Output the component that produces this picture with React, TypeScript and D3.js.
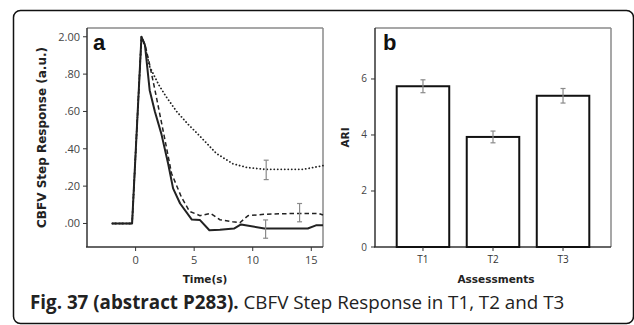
import React from "react";
import * as d3 from "d3";

// ---- Panel a data (CBFV step response) ----
const solidT = [-2, -0.3, 0.5, 0.8, 1.2, 1.65, 2.2, 2.78, 3.2, 3.8, 4.8, 5.5, 6.3, 7.2, 8.4, 9.0, 11.0, 14.7, 15.4, 16];
const solidV = [0, 0, 1.0, 0.955, 0.714, 0.598, 0.48, 0.32, 0.188, 0.107, 0.021, 0.018, -0.036, -0.034, -0.027, -0.005, -0.027, -0.027, -0.01, -0.01];

const dashedT = [-2, -0.3, 0.5, 0.8, 1.2, 1.7, 2.5, 3.07, 3.9, 4.6, 5.5, 6.4, 7.2, 8.3, 8.9, 9.6, 11.2, 14.0, 15.6, 16];
const dashedV = [0, 0, 1.0, 0.96, 0.85, 0.7, 0.45, 0.268, 0.143, 0.065, 0.042, 0.054, 0.02, 0.009, 0.004, 0.042, 0.05, 0.054, 0.054, 0.045];

const dottedT = [-2, -0.3, 0.5, 0.8, 1.2, 2.0, 2.6, 3.5, 4.5, 5.3, 6.9, 8.3, 9.5, 11, 14.3, 15.2, 16];
const dottedV = [0, 0, 1.0, 0.95, 0.84, 0.74, 0.68, 0.6, 0.53, 0.48, 0.375, 0.32, 0.3, 0.29, 0.29, 0.3, 0.31];

const errT = [11.1, 11.15, 14.0];
const errMean = [-0.03, 0.287, 0.058];
const errHalf = [0.049, 0.052, 0.049];

const yTicksA = [0, 0.2, 0.4, 0.6, 0.8, 1.0];
const yTickLabelsA = [".00", ".20", ".40", ".60", ".80", "2.00"];
const xTicksA = [0, 5, 10, 15];

// ---- Panel b data (ARI) ----
const assessments = ["T1", "T2", "T3"];
const ariValues = [5.74, 3.93, 5.4];
const ariErr = [0.23, 0.21, 0.26];
const yTicksB = [0, 2, 4, 6];

const caption = "Fig. 37 (abstract P283).";
const captionRest = " CBFV Step Response in T1, T2 and T3";

export default function App() {
  // panel a geometry
  const aL = 87, aR = 323, aT = 28, aB = 247;
  const xA = d3.scaleLinear().domain([-4.15, 16]).range([aL, aR]);
  const yA = d3.scaleLinear().domain([-0.126, 1.047]).range([aB, aT]);
  const mk = (ts: number[], vs: number[]) =>
    d3.line<number>().x((_, i) => xA(ts[i])).y((v) => yA(v))(vs) || "";

  // panel b geometry
  const bL = 375, bR = 611, bT = 28, bB = 247;
  const xB = d3.scaleBand<string>().domain(assessments).range([bL, bR]).paddingInner(0.25).paddingOuter(0.31);
  const yB = d3.scaleLinear().domain([0, 7.82]).range([bB, bT]);

  const tickFont = "'Open Sans', sans-serif";
  const titleFont = "'DejaVu Sans', sans-serif";
  const ink = "#222";
  const grey = "#8a8a8a";

  return (
    <div style={{ position: "absolute", left: 0, top: 0 }}>
      <svg width={634} height={325} style={{ display: "block", background: "#fff" }}>
        {/* outer rounded frame */}
        <rect x={13.5} y={10.5} width={620} height={313} rx={7} fill="none" stroke="#111" strokeWidth={1.5} />

        {/* ===== Panel a ===== */}
        <line x1={aL} y1={aT} x2={aR} y2={aT} stroke={grey} strokeWidth={1.5} />
        <line x1={aR} y1={aT} x2={aR} y2={aB} stroke={grey} strokeWidth={1.5} />
        <line x1={aL} y1={aT} x2={aL} y2={aB} stroke="#333" strokeWidth={1.5} />
        <line x1={aL - 1} y1={aB} x2={aR} y2={aB} stroke="#333" strokeWidth={1.5} />
        {yTicksA.map((t, i) => (
          <g key={"ya" + i}>
            <line x1={aL - 4} x2={aL} y1={yA(t)} y2={yA(t)} stroke="#333" strokeWidth={1} />
            <text x={aL - 7} y={yA(t)} dy="0.35em" textAnchor="end" fontFamily={tickFont} fontSize={11} fill="#444">
              {yTickLabelsA[i]}
            </text>
          </g>
        ))}
        {xTicksA.map((t) => (
          <g key={"xa" + t}>
            <line x1={xA(t)} x2={xA(t)} y1={aB} y2={aB + 4} stroke="#333" strokeWidth={1} />
            <text x={xA(t)} y={aB + 17} textAnchor="middle" fontFamily={tickFont} fontSize={11} fill="#444">
              {t}
            </text>
          </g>
        ))}
        <text x={aL + 6} y={50} fontFamily="'Liberation Sans', Arial, sans-serif" fontWeight="bold" fontSize={22} fill="#111">a</text>

        <path d={mk(dottedT, dottedV)} fill="none" stroke={ink} strokeWidth={1.8} strokeDasharray="0.1,3.4" strokeLinecap="round" />
        <path d={mk(dashedT, dashedV)} fill="none" stroke={ink} strokeWidth={1.5} strokeDasharray="4.5,3" />
        <path d={mk(solidT, solidV)} fill="none" stroke={ink} strokeWidth={2} strokeLinejoin="round" />

        {errT.map((t, i) => (
          <g key={"ea" + i} stroke={grey} strokeWidth={1.2}>
            <line x1={xA(t)} x2={xA(t)} y1={yA(errMean[i] - errHalf[i])} y2={yA(errMean[i] + errHalf[i])} />
            <line x1={xA(t) - 2.5} x2={xA(t) + 2.5} y1={yA(errMean[i] - errHalf[i])} y2={yA(errMean[i] - errHalf[i])} />
            <line x1={xA(t) - 2.5} x2={xA(t) + 2.5} y1={yA(errMean[i] + errHalf[i])} y2={yA(errMean[i] + errHalf[i])} />
          </g>
        ))}

        <text x={(aL + aR) / 2} y={283} textAnchor="middle" fontFamily={titleFont} fontWeight="bold" fontSize={10.5} fill="#222">Time(s)</text>
        <text transform={`translate(46,${(aT + aB) / 2}) rotate(-90)`} textAnchor="middle" fontFamily={titleFont} fontWeight="bold" fontSize={12} fill="#222">
          CBFV Step Response (a.u.)
        </text>

        {/* ===== Panel b ===== */}
        <line x1={bL} y1={bT} x2={bR} y2={bT} stroke={grey} strokeWidth={1.5} />
        <line x1={bR} y1={bT} x2={bR} y2={bB} stroke={grey} strokeWidth={1.5} />
        <line x1={bL} y1={bT} x2={bL} y2={bB} stroke="#333" strokeWidth={1.5} />
        <line x1={bL - 1} y1={bB} x2={bR} y2={bB} stroke="#333" strokeWidth={1.5} />
        {yTicksB.map((t) => (
          <g key={"yb" + t}>
            <line x1={bL - 4} x2={bL} y1={yB(t)} y2={yB(t)} stroke="#333" strokeWidth={1} />
            <text x={bL - 8} y={yB(t)} dy="0.35em" textAnchor="end" fontFamily={tickFont} fontSize={10} fill="#444">{t}</text>
          </g>
        ))}
        {assessments.map((c, i) => {
          const x0 = xB(c) as number;
          const w = xB.bandwidth();
          const cx = x0 + w / 2;
          return (
            <g key={"bar" + c}>
              <rect x={x0} y={yB(ariValues[i])} width={w} height={bB - yB(ariValues[i])} fill="#fff" stroke="#111" strokeWidth={2} />
              <g stroke={grey} strokeWidth={1.2}>
                <line x1={cx} x2={cx} y1={yB(ariValues[i] - ariErr[i])} y2={yB(ariValues[i] + ariErr[i])} />
                <line x1={cx - 2.5} x2={cx + 2.5} y1={yB(ariValues[i] - ariErr[i])} y2={yB(ariValues[i] - ariErr[i])} />
                <line x1={cx - 2.5} x2={cx + 2.5} y1={yB(ariValues[i] + ariErr[i])} y2={yB(ariValues[i] + ariErr[i])} />
              </g>
              <line x1={cx} x2={cx} y1={bB} y2={bB + 4} stroke="#333" strokeWidth={1} />
              <text x={cx} y={bB + 16} textAnchor="middle" fontFamily={tickFont} fontSize={10} fill="#333">{c}</text>
            </g>
          );
        })}
        <text x={bL + 8} y={50} fontFamily="'Liberation Sans', Arial, sans-serif" fontWeight="bold" fontSize={22} fill="#111">b</text>
        <text x={(bL + bR) / 2 + 3} y={283} textAnchor="middle" fontFamily={titleFont} fontWeight="bold" fontSize={10.5} fill="#222">Assessments</text>
        <text transform={`translate(349,${(bT + bB) / 2}) rotate(-90)`} textAnchor="middle" fontFamily={titleFont} fontWeight="bold" fontSize={10.5} fill="#222">ARI</text>

        {/* caption */}
        <text x={30} y={309} fontFamily="'Open Sans', sans-serif" fontSize={18.8} fill="#222">
          <tspan fontWeight="bold">{caption}</tspan>
          <tspan>{captionRest}</tspan>
        </text>
      </svg>
    </div>
  );
}
